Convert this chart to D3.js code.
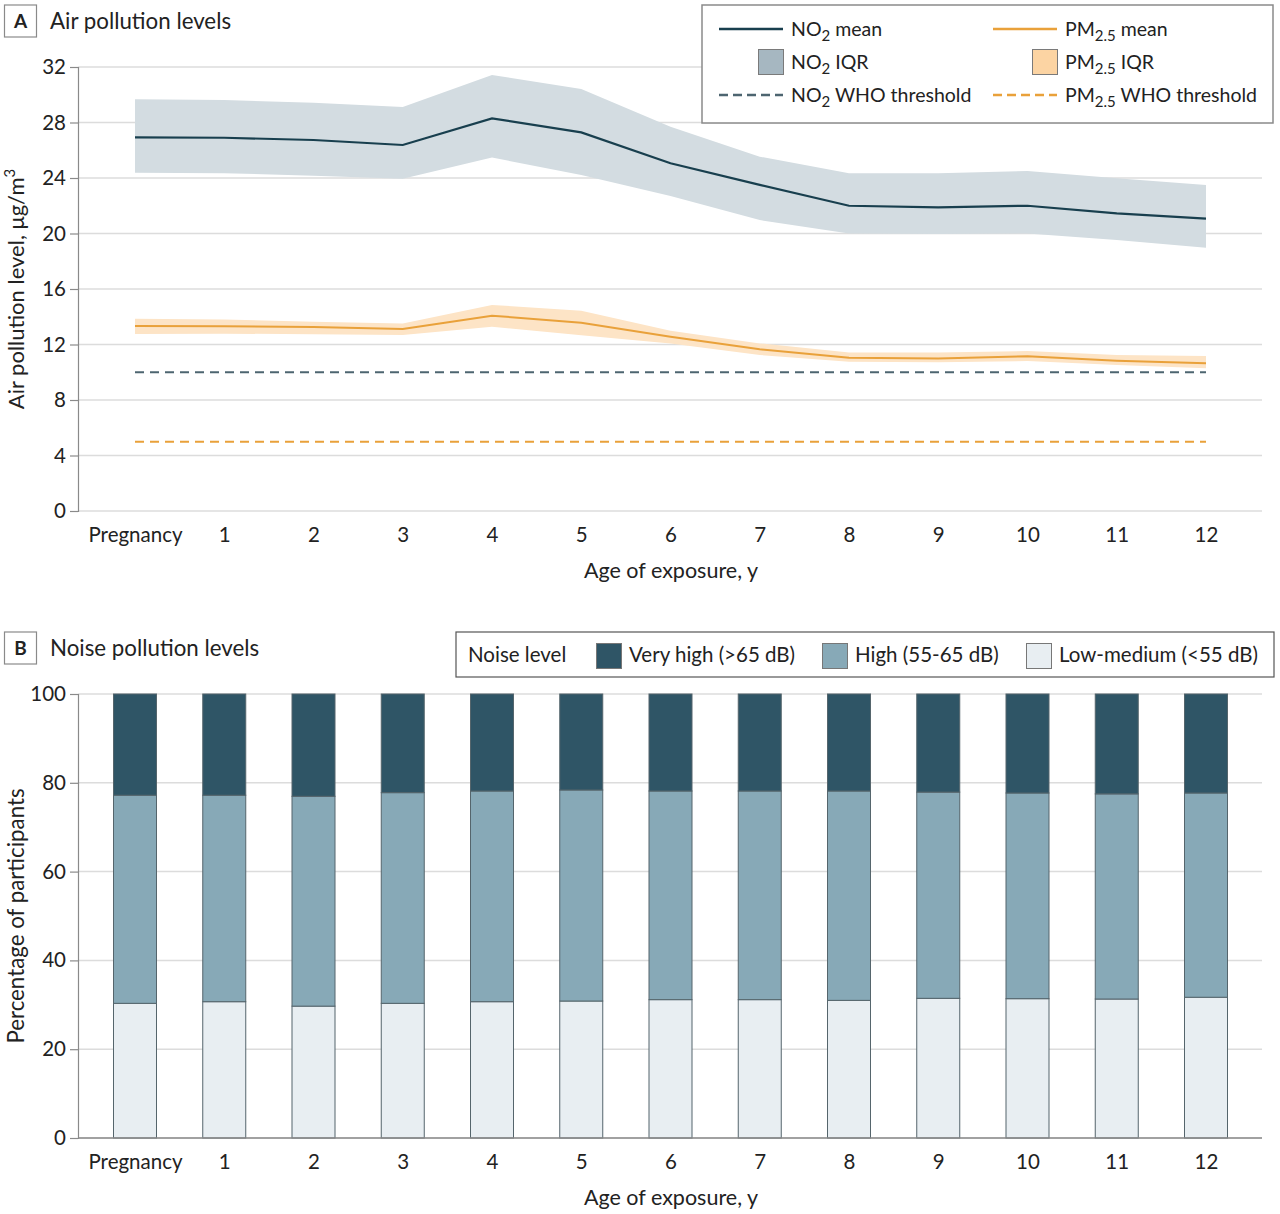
<!DOCTYPE html>
<html><head><meta charset="utf-8">
<script src="https://cdn.jsdelivr.net/npm/d3@7"></script>
<style>
body{margin:0;background:#fff;}
svg text{font-family:Lato,"Open Sans",sans-serif;fill:#222;}
</style></head>
<body>
<svg id="chart" width="1280" height="1214"></svg>
<script>
const categories = ["Pregnancy","1","2","3","4","5","6","7","8","9","10","11","12"];
const no2Mean  = [26.93,26.9,26.74,26.38,28.3,27.29,25.06,23.5,22.0,21.89,22.0,21.45,21.07];
const no2Upper = [29.67,29.62,29.43,29.12,31.42,30.41,27.7,25.54,24.34,24.34,24.5,23.98,23.5];
const no2Lower = [24.38,24.34,24.17,23.95,25.47,24.22,22.7,20.97,20.0,19.96,20.0,19.53,18.98];
const pmMean   = [13.33,13.32,13.26,13.12,14.08,13.57,12.56,11.65,11.05,11.0,11.15,10.83,10.64];
const pmUpper  = [13.86,13.8,13.64,13.52,14.85,14.44,12.99,12.08,11.43,11.43,11.53,11.24,11.17];
const pmLower  = [12.76,12.78,12.74,12.68,13.28,12.66,12.08,11.24,10.76,10.72,10.81,10.52,10.28];
const no2WHO = 10;
const pmWHO = 5;
const airTicks = [0,4,8,12,16,20,24,28,32];

const lowMedium = [30.33,30.7,29.7,30.33,30.7,30.85,31.16,31.16,31.0,31.46,31.38,31.3,31.7];
const highPlusLow = [77.2,77.2,76.96,77.78,78.15,78.38,78.15,78.15,78.15,77.9,77.7,77.5,77.7];
const noiseTicks = [0,20,40,60,80,100];
const noiseLevels = ["Very high (>65 dB)","High (55-65 dB)","Low-medium (<55 dB)"];

const svg = d3.select("#chart");
const C = {no2:"#183f4e", no2Band:"#d3dce1", no2Sq:"#a6b7c1", no2Dash:"#4d6570",
           pm:"#e9a13a", pmBand:"#fde4c6", pmSq:"#fcd4a3",
           vh:"#2f5566", hi:"#87a9b7", lm:"#e8eef2", grid:"#dcdcdc", axis:"#8a8a8a"};
const left = 78, right = 1262;
const FT = 20.5;
const x = d3.scalePoint().domain(categories).range([135,1206]);

function panelLabel(letter, y, title){
  svg.append("rect").attr("x",4.5).attr("y",y).attr("width",32).attr("height",32)
     .attr("fill","#fff").attr("stroke","#8a8a8a").attr("stroke-width",1.2);
  svg.append("text").attr("x",20.5).attr("y",y+23).attr("text-anchor","middle")
     .attr("font-size",19).attr("font-weight","bold").text(letter);
  svg.append("text").attr("x",50).attr("y",y+24).attr("font-size",22.3).text(title);
}
function sub(textSel, main, s, rest){
  textSel.append("tspan").text(main);
  textSel.append("tspan").attr("dy",5).attr("font-size",15).text(s);
  textSel.append("tspan").attr("dy",-5).text(rest);
}

// ---------- Panel A ----------
panelLabel("A", 5, "Air pollution levels");
const yA = d3.scaleLinear().domain([0,32]).range([511,67]);
const gA = svg.append("g");
gA.selectAll("line.grid").data(airTicks).join("line")
  .attr("x1",left).attr("x2",right).attr("y1",d=>yA(d)).attr("y2",d=>yA(d))
  .attr("stroke",C.grid).attr("stroke-width",1.5);
const axA = gA.append("g").attr("transform",`translate(${left},0)`)
  .call(d3.axisLeft(yA).tickValues(airTicks).tickSize(8).tickPadding(4));
axA.select(".domain").attr("stroke",C.axis).attr("stroke-width",1.2);
axA.selectAll(".tick line").attr("stroke",C.axis).attr("stroke-width",1.2);
axA.selectAll(".tick text").attr("font-size",FT).attr("font-family","Lato").attr("fill","#222");
const axAx = gA.append("g").attr("transform",`translate(0,511)`)
  .call(d3.axisBottom(x).tickSize(0).tickPadding(16));
axAx.select(".domain").remove();
axAx.selectAll(".tick text").attr("font-size",FT).attr("font-family","Lato").attr("fill","#222");

const area = (lo,hi)=>d3.area().x((d,i)=>x(categories[i])).y0((d,i)=>yA(lo[i])).y1((d,i)=>yA(hi[i]));
const line = vals=>d3.line().x((d,i)=>x(categories[i])).y((d,i)=>yA(vals[i]));
gA.append("path").datum(categories).attr("d",area(no2Lower,no2Upper)).attr("fill",C.no2Band);
gA.append("path").datum(categories).attr("d",area(pmLower,pmUpper)).attr("fill",C.pmBand);
gA.append("line").attr("x1",x(categories[0])).attr("x2",x(categories[12]))
  .attr("y1",yA(no2WHO)).attr("y2",yA(no2WHO)).attr("stroke",C.no2Dash).attr("stroke-width",2).attr("stroke-dasharray","9,6");
gA.append("line").attr("x1",x(categories[0])).attr("x2",x(categories[12]))
  .attr("y1",yA(pmWHO)).attr("y2",yA(pmWHO)).attr("stroke",C.pm).attr("stroke-width",2).attr("stroke-dasharray","9,6");
gA.append("path").datum(categories).attr("d",line(no2Mean)).attr("fill","none").attr("stroke",C.no2).attr("stroke-width",2.2);
gA.append("path").datum(categories).attr("d",line(pmMean)).attr("fill","none").attr("stroke",C.pm).attr("stroke-width",2);

svg.append("text").attr("x",671).attr("y",578).attr("text-anchor","middle").attr("font-size",21.5).text("Age of exposure, y");
const ytA = svg.append("text").attr("transform","translate(24,289) rotate(-90)").attr("text-anchor","middle").attr("font-size",22);
ytA.append("tspan").text("Air pollution level, μg/m");
ytA.append("tspan").attr("dy",-9).attr("font-size",15).text("3");

// legend A
const lgA = svg.append("g");
lgA.append("rect").attr("x",702).attr("y",5).attr("width",571).attr("height",118)
  .attr("fill","#fff").attr("stroke","#8a8a8a").attr("stroke-width",1.5);
const legItems = [
  {col:0,row:0,type:"line",color:C.no2,m:"NO",s:"2",r:" mean"},
  {col:0,row:1,type:"sq",color:C.no2Sq,m:"NO",s:"2",r:" IQR"},
  {col:0,row:2,type:"dash",color:C.no2Dash,m:"NO",s:"2",r:" WHO threshold"},
  {col:1,row:0,type:"line",color:C.pm,m:"PM",s:"2.5",r:" mean"},
  {col:1,row:1,type:"sq",color:C.pmSq,m:"PM",s:"2.5",r:" IQR"},
  {col:1,row:2,type:"dash",color:C.pm,m:"PM",s:"2.5",r:" WHO threshold"}];
legItems.forEach(it=>{
  const x0 = it.col===0?719:993, yy = 29+it.row*33;
  if(it.type==="sq"){
    lgA.append("rect").attr("x",x0+39.5).attr("y",yy-12.5).attr("width",25).attr("height",25)
      .attr("fill",it.color).attr("stroke","#7a7a7a").attr("stroke-width",1);
  } else {
    lgA.append("line").attr("x1",x0).attr("x2",x0+64).attr("y1",yy).attr("y2",yy)
      .attr("stroke",it.color).attr("stroke-width",2.5).attr("stroke-dasharray",it.type==="dash"?"9,5":null);
  }
  const t = lgA.append("text").attr("x",x0+72).attr("y",yy+7).attr("font-size",19.5);
  sub(t,it.m,it.s,it.r);
});

// ---------- Panel B ----------
panelLabel("B", 632, "Noise pollution levels");
const yB = d3.scaleLinear().domain([0,100]).range([1138,694]);
const gB = svg.append("g");
gB.selectAll("line.grid").data(noiseTicks).join("line")
  .attr("x1",left).attr("x2",right).attr("y1",d=>yB(d)).attr("y2",d=>yB(d))
  .attr("stroke",C.grid).attr("stroke-width",1.5);
const axB = gB.append("g").attr("transform",`translate(${left},0)`)
  .call(d3.axisLeft(yB).tickValues(noiseTicks).tickSize(8).tickPadding(4));
axB.select(".domain").attr("stroke",C.axis).attr("stroke-width",1.2);
axB.selectAll(".tick line").attr("stroke",C.axis).attr("stroke-width",1.2);
axB.selectAll(".tick text").attr("font-size",FT).attr("font-family","Lato").attr("fill","#222");

const stackData = categories.map((c,i)=>({cat:c, lm:lowMedium[i], hi:highPlusLow[i]-lowMedium[i], vh:100-highPlusLow[i]}));
const stack = d3.stack().keys(["lm","hi","vh"])(stackData);
const colorMap = {lm:C.lm, hi:C.hi, vh:C.vh};
const bw = 43;
stack.forEach(layer=>{
  gB.selectAll(null).data(layer).join("rect")
    .attr("x",d=>x(d.data.cat)-bw/2).attr("width",bw)
    .attr("y",d=>yB(d[1])).attr("height",d=>yB(d[0])-yB(d[1]))
    .attr("fill",colorMap[layer.key]).attr("stroke","#55656c").attr("stroke-width",1);
});
gB.append("line").attr("x1",left).attr("x2",right).attr("y1",yB(0)).attr("y2",yB(0)).attr("stroke",C.axis).attr("stroke-width",1.5);
const axBx = gB.append("g").attr("transform",`translate(0,1138)`)
  .call(d3.axisBottom(x).tickSize(0).tickPadding(16));
axBx.select(".domain").remove();
axBx.selectAll(".tick text").attr("font-size",FT).attr("font-family","Lato").attr("fill","#222");

svg.append("text").attr("x",671).attr("y",1205).attr("text-anchor","middle").attr("font-size",21.5).text("Age of exposure, y");
svg.append("text").attr("transform","translate(24,916) rotate(-90)").attr("text-anchor","middle").attr("font-size",22.3).text("Percentage of participants");

// legend B
const lgB = svg.append("g");
lgB.append("rect").attr("x",456).attr("y",632).attr("width",818).attr("height",45)
  .attr("fill","#fff").attr("stroke","#555").attr("stroke-width",1.2);
lgB.append("text").attr("x",468).attr("y",662).attr("font-size",FT).text("Noise level");
const lgBx = [596,822,1026];
const lgBc = [C.vh,C.hi,C.lm];
noiseLevels.forEach((n,i)=>{
  lgB.append("rect").attr("x",lgBx[i]+0.5).attr("y",643.5).attr("width",25).attr("height",25)
    .attr("fill",lgBc[i]).attr("stroke","#777").attr("stroke-width",1);
  lgB.append("text").attr("x",lgBx[i]+33).attr("y",662).attr("font-size",FT).text(n);
});
</script>
</body></html>
